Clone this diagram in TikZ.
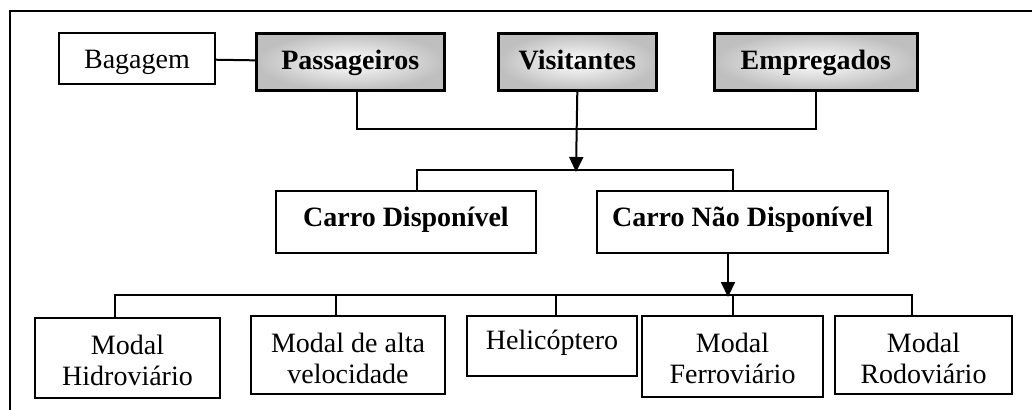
\documentclass[tikz,border=0pt]{standalone}
\usepackage{fontspec}
\setmainfont{Liberation Serif}
\usetikzlibrary{arrows.meta}
\tikzset{
  box/.style={draw, line width=1pt, inner sep=0pt, anchor=north west,
    font=\fontsize{14}{15.5}\selectfont, align=center},
  greybox/.style={box, line width=1.3pt, inner color=white, outer color=black!25,
    font=\fontsize{14}{15.5}\selectfont\bfseries},
  link/.style={line width=1pt},
  arrow/.style={link, -{Triangle[length=7.5pt,width=7pt]}}
}
\begin{document}
\begin{tikzpicture}[x=0.5pt, y=-0.5pt]
  \useasboundingbox (0,0) rectangle (1032,409);
  \clip (0,0) rectangle (1032,409);
  % outer frame, cut at the right and bottom
  \draw[line width=1pt] (1045,11) -| (10,420);

  % people
  \node (bag) at (58,32) [box, minimum width=78pt, minimum height=25.5pt,
    text height=17.5pt, text depth=8pt] {Bagagem};
  \node (pas) at (255,32) [greybox, minimum width=94pt, minimum height=28.5pt,
    text height=18pt, text depth=10.5pt] {Passageiros};
  \node (vis) at (497,32) [greybox, minimum width=79pt, minimum height=28.5pt,
    text height=18pt, text depth=10.5pt] {Visitantes};
  \node (emp) at (713,32) [greybox, minimum width=101.5pt, minimum height=28.5pt,
    text height=18pt, text depth=10.5pt] {Empregados};

  % car
  \node (cd) at (275,190) [box, font=\fontsize{14}{15.5}\selectfont\bfseries,
    minimum width=130pt, minimum height=31pt,
    text height=17.5pt, text depth=13.5pt] {Carro Disponível};
  \node (cnd) at (596,190) [box, font=\fontsize{14}{15.5}\selectfont\bfseries,
    minimum width=145.5pt, minimum height=31pt,
    text height=17.5pt, text depth=13.5pt] {Carro Não Disponível};

  % modes
  \node (hid) at (34,317) [box, minimum width=92.5pt, minimum height=40pt,
    text height=33.5pt, text depth=6.5pt] {Modal\\Hidroviário};
  \node (alta) at (250,315) [box, minimum width=97pt, minimum height=39pt,
    text height=33.5pt, text depth=5.5pt] {Modal de alta\\velocidade};
  \node (heli) at (466,315) [box, minimum width=85pt, minimum height=30pt,
    text height=16.5pt, text depth=13.5pt] {Helicóptero};
  \node (fer) at (641,315) [box, minimum width=90.5pt, minimum height=40.5pt,
    text height=33.5pt, text depth=7pt] {Modal\\Ferroviário};
  \node (rod) at (834,315) [box, minimum width=88.5pt, minimum height=39pt,
    text height=33.5pt, text depth=5.5pt] {Modal\\Rodoviário};

  % bus points
  \coordinate (j0) at (576,129);
  \coordinate (j1) at (576,170);
  \coordinate (b1l) at (417,170);
  \coordinate (b1r) at (733,170);
  \coordinate (j2) at (728,295);
  \coordinate (d1) at (115,295);
  \coordinate (d2) at (336,295);
  \coordinate (d3) at (556,295);
  \coordinate (d4) at (733,295);
  \coordinate (d5) at (912,295);

  \draw[link] (bag) -- (pas);
  \draw[link] ([xshift=3.5pt]pas.south) |- (j0) -| (emp.south);
  \draw[arrow] (vis.south) -- ([yshift=-1pt]j1);
  \draw[link] (b1l |- cd.north) -- (b1l) -- (b1r) -- (b1r |- cnd.north);
  \draw[arrow] (cnd.south -| j2) -- ([yshift=-1pt]j2);
  \draw[link] (d1 |- hid.north) -- (d1) -- (d5) -- (d5 |- rod.north);
  \draw[link] (d2) -- (d2 |- alta.north);
  \draw[link] (d3) -- (d3 |- heli.north);
  \draw[link] (d4) -- (d4 |- fer.north);
\end{tikzpicture}
\end{document}
